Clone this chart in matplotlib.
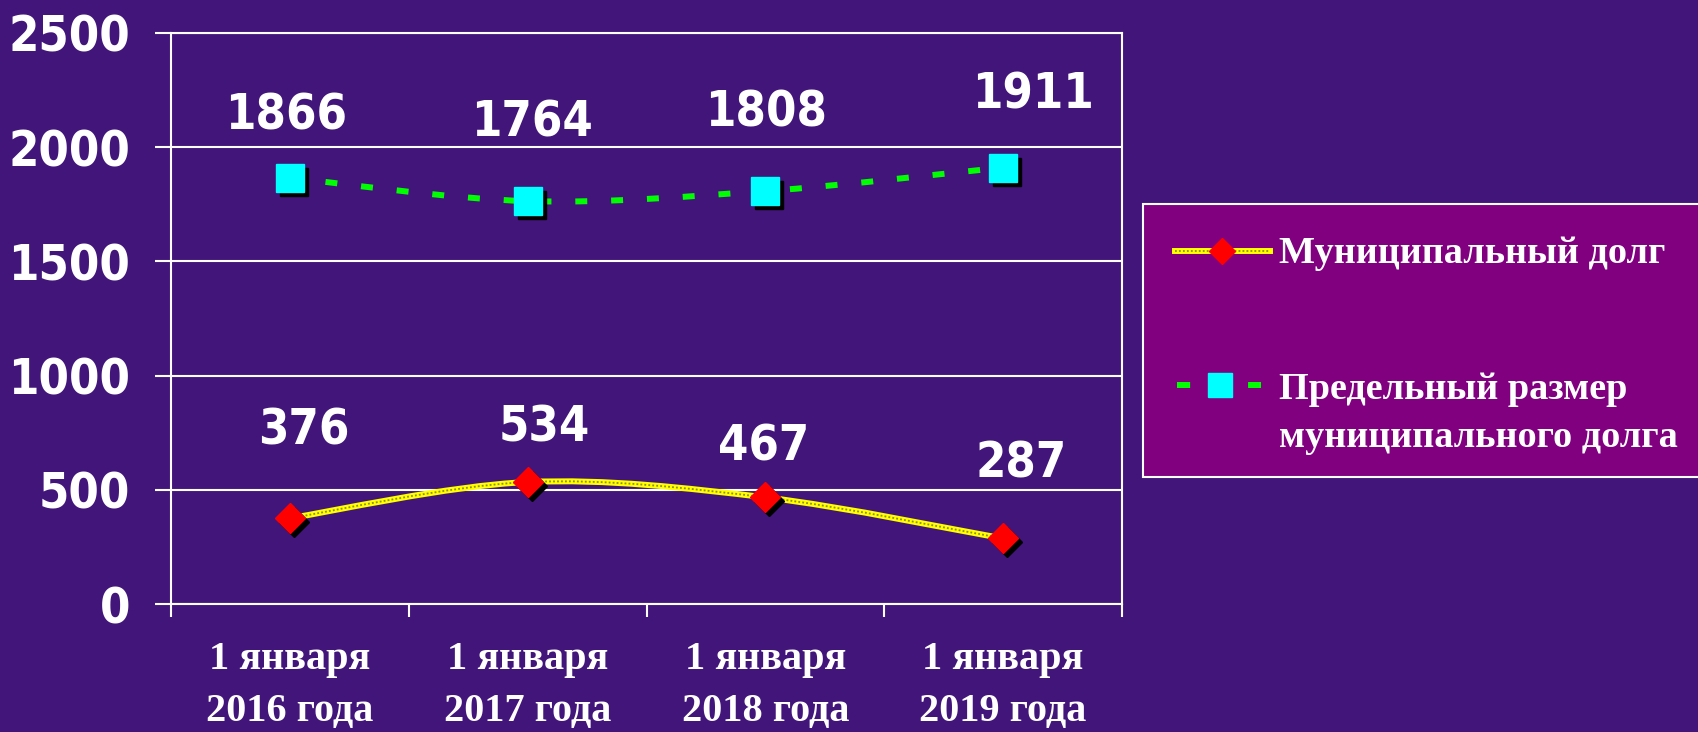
import numpy as np
import matplotlib
matplotlib.use("Agg")
import matplotlib.pyplot as plt
from matplotlib.path import Path
from matplotlib.patches import PathPatch, Rectangle
from matplotlib.lines import Line2D
from matplotlib import transforms

# -------------------------------------------------
# Daten
# -------------------------------------------------

dates = ["1 января\n2016 года", "1 января\n2017 года",
         "1 января\n2018 года", "1 января\n2019 года"]
debt = [376, 534, 467, 287]
limit = [1866, 1764, 1808, 1911]
yticks = [0, 500, 1000, 1500, 2000, 2500]

label_debt = "Муниципальный долг"
label_limit = ["Предельный размер", "муниципального долга"]

# label offsets in pixels (layout only)
off_debt = [(14, 88), (17, 55), (-2, 51), (18, 75)]
off_limit = [(-4, 62), (4, 79), (1, 79), (30, 73)]

W, H = 1698, 732
bg = "#42157a"
num_font = dict(family="DejaVu Sans", weight="bold", stretch="condensed")
serif = dict(family="Liberation Serif", weight="bold")


def smooth_path(xs, ys):
    pts = np.column_stack([xs, ys]).astype(float)
    ext = np.vstack([pts[0], pts, pts[-1]])
    verts = [pts[0]]
    codes = [Path.MOVETO]
    for i in range(len(pts) - 1):
        p0, p1, p2, p3 = ext[i], ext[i + 1], ext[i + 2], ext[i + 3]
        verts += [p1 + (p2 - p0) / 6, p2 - (p3 - p1) / 6, p2]
        codes += [Path.CURVE4] * 3
    return Path(verts, codes)


def fx(px):
    return px / W


def fy(py):
    return 1 - py / H


fig = plt.figure(figsize=(W / 100, H / 100), dpi=100, facecolor=bg)
ax = fig.add_axes([fx(171), fy(604), fx(1122) - fx(171), fy(33) - fy(604)])
ax.set_facecolor(bg)

x = np.arange(len(dates))

# Linien (geglättet)
ax.add_patch(PathPatch(smooth_path(x, limit), fill=False, edgecolor="#00ff00",
                       lw=4.3, linestyle=(0, (2, 4)), zorder=3, capstyle="butt"))
ax.add_patch(PathPatch(smooth_path(x, debt), fill=False, edgecolor="#ffff00",
                       lw=4.3, zorder=3))
ax.add_patch(PathPatch(smooth_path(x, debt), fill=False, edgecolor="#8c8c1e",
                       lw=1.3, linestyle=(0, (1, 1.2)), zorder=3))

# Marker mit Schatten
shadow = transforms.offset_copy(ax.transData, fig=fig, x=4, y=-4, units="dots")
ax.plot(x, limit, ls="none", marker="s", ms=20, mfc="black", mec="black",
        transform=shadow, zorder=4)
ax.plot(x, limit, ls="none", marker="s", ms=20, mfc="#00ffff", mec="#00ffff",
        zorder=5)
ax.plot(x, debt, ls="none", marker="D", ms=15, mfc="black", mec="black",
        transform=shadow, zorder=4)
ax.plot(x, debt, ls="none", marker="D", ms=15, mfc="#ff0000", mec="#ff0000",
        zorder=5)

# Beschriftungen
for xi, v, off in zip(x, limit, off_limit):
    ax.annotate(str(v), (xi, v), xytext=off, textcoords="offset pixels",
                ha="center", va="center", color="white", fontsize=35,
                **num_font)
for xi, v, off in zip(x, debt, off_debt):
    ax.annotate(str(v), (xi, v), xytext=off, textcoords="offset pixels",
                ha="center", va="center", color="white", fontsize=35,
                **num_font)

# Achsen
ax.set_xlim(-0.5, 3.5)
ax.set_ylim(0, 2500)
ax.set_yticks(yticks)
ax.set_yticklabels([str(t) for t in yticks], color="white", fontsize=35,
                   **num_font)
ax.set_xticks([-0.5, 0.5, 1.5, 2.5, 3.5])
ax.set_xticklabels([])
ax.set_xticks(x, minor=True)
ax.set_xticklabels(dates, minor=True, color="white", fontsize=29,
                   linespacing=1.5, **serif)
ax.tick_params(axis="y", colors="white", length=11.5, width=1.5, pad=18)
ax.tick_params(axis="x", which="major", colors="white", length=9, width=1.5)
ax.tick_params(axis="x", which="minor", length=0, pad=27)
ax.grid(axis="y", color="white", lw=1.5)
ax.set_axisbelow(True)
for s in ax.spines.values():
    s.set_color("white")
    s.set_linewidth(1.5)

# Legende
fig.patches.append(Rectangle((fx(1143), fy(477)), 1.0, fy(204) - fy(477),
                             transform=fig.transFigure, facecolor="#800080",
                             edgecolor="white", lw=1.5, zorder=1))
fig.add_artist(Line2D([fx(1175), fx(1270)], [fy(251), fy(251)],
                      transform=fig.transFigure, color="#ffff00", lw=4.3))
fig.add_artist(Line2D([fx(1175), fx(1270)], [fy(251), fy(251)],
                      transform=fig.transFigure, color="#8c8c1e", lw=1.3,
                      ls=(0, (1, 1.2))))
fig.add_artist(Line2D([fx(1222)], [fy(251)], transform=fig.transFigure,
                      marker="D", ms=13.2, mfc="#ff0000", mec="#ff0000", ls="none"))
fig.add_artist(Line2D([fx(1177), fx(1261)], [fy(385), fy(385)],
                      transform=fig.transFigure, color="#00ff00", lw=4.3,
                      ls=(0, (2.2, 9.7)), dash_capstyle="butt"))
fig.add_artist(Line2D([fx(1220)], [fy(385)], transform=fig.transFigure,
                      marker="s", ms=17.3, mfc="#00ffff", mec="#00ffff", ls="none"))
fig.text(fx(1279), fy(263), label_debt, ha="left", va="baseline", color="white",
         fontsize=27.5, **serif)
fig.text(fx(1279), fy(399), label_limit[0], ha="left", va="baseline",
         color="white", fontsize=27.5, **serif)
fig.text(fx(1279), fy(447), label_limit[1], ha="left", va="baseline",
         color="white", fontsize=27.5, **serif)

fig.savefig("out.png", dpi=100, facecolor=bg)
